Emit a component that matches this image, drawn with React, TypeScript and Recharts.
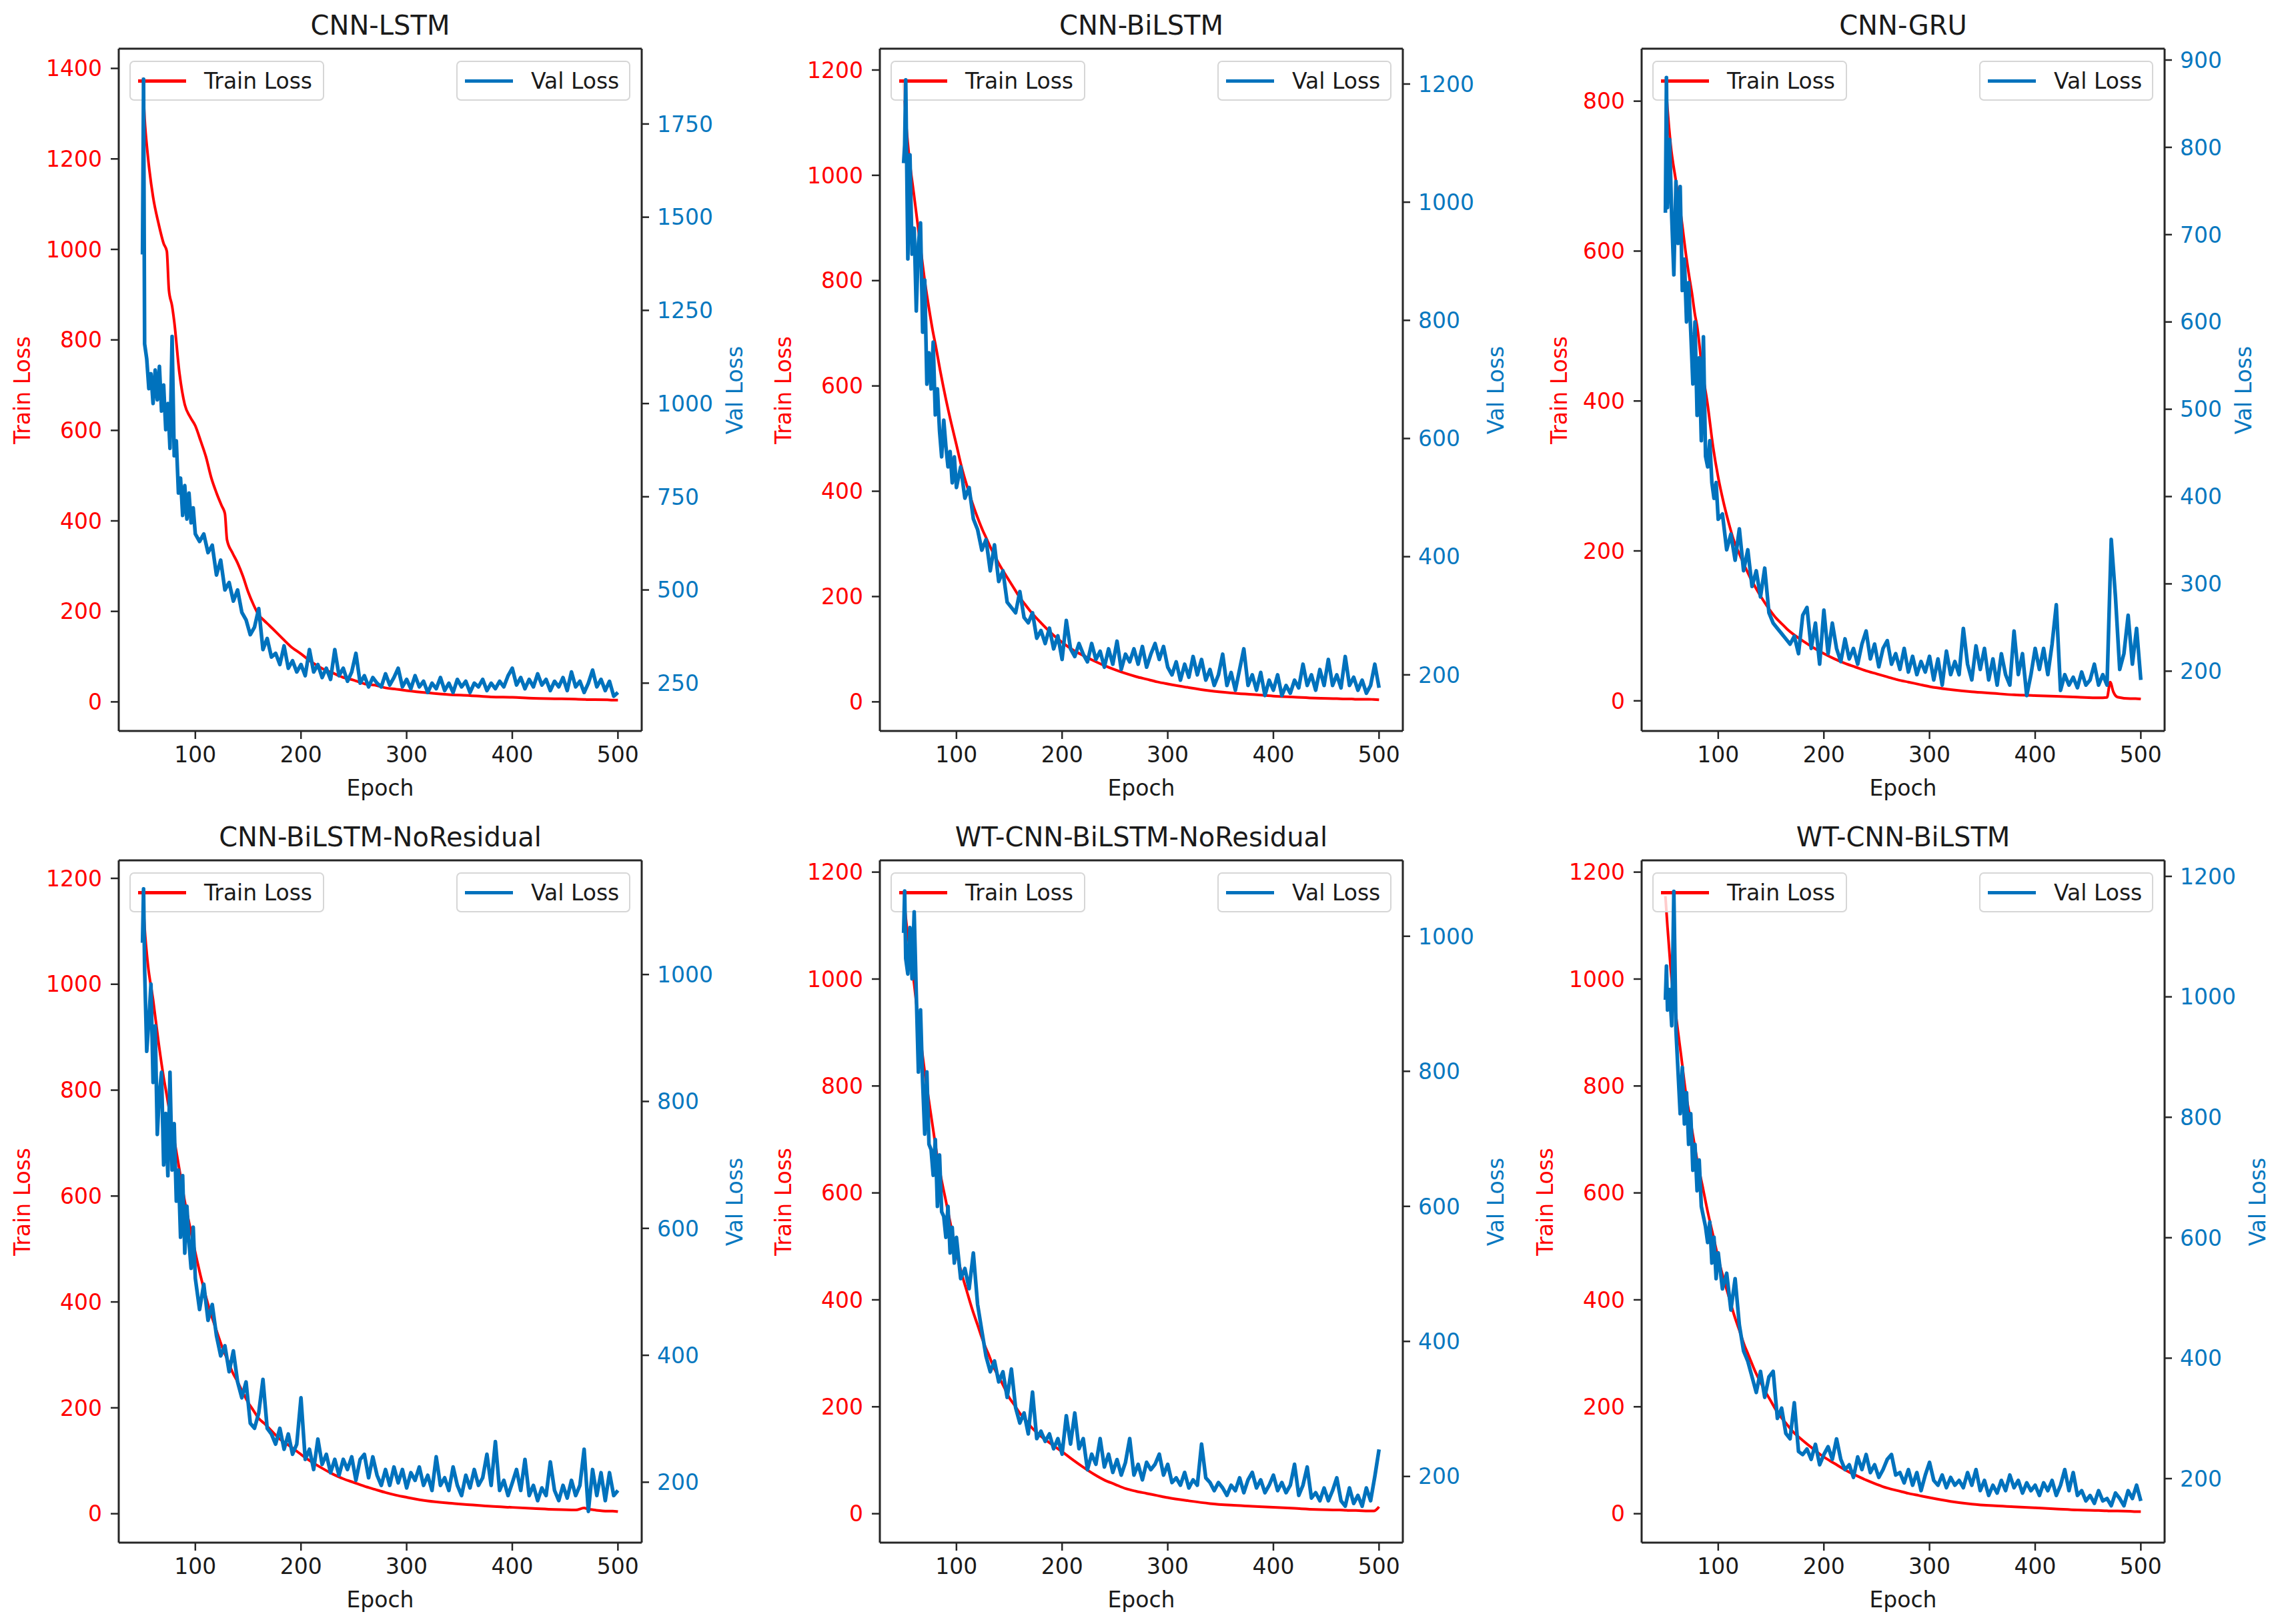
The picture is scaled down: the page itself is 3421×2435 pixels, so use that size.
import React from "react";
import { Line, LineChart, ReferenceLine, XAxis, YAxis } from "recharts";

// Six training-curve panels (2 x 3). Each panel = twin-axis plot: train loss
// on the left (red), val loss on the right (blue). Drawn as two stacked charts
// so the val line and its legend sit above the train legend, like a twinx.
const FONT = "'DejaVu Sans', sans-serif";
const RED = "#ff0000";
const BLUE = "#0072bd";
const BLUE_TEXT = "#0878bf";
const INK = "#1a1a1a";
const AXIS = "#262626";

const PLOT_W = 784;
const PLOT_H = 1023;
const LEFT_W = 170;
const RIGHT_W = 200;
const TOP_PAD = 10;
const X_AXIS_H = 140;
const CHART_W = LEFT_W + PLOT_W + RIGHT_W;
const CHART_H = TOP_PAD + PLOT_H + X_AXIS_H;

const X_DOMAIN: [number, number] = [27.5, 522.5];
const X_TICKS = [100, 200, 300, 400, 500];

const TICKS_0_1400 = [0, 200, 400, 600, 800, 1000, 1200, 1400];
const TICKS_0_1200 = [0, 200, 400, 600, 800, 1000, 1200];
const TICKS_0_800 = [0, 200, 400, 600, 800];
const TICKS_250_1750 = [250, 500, 750, 1000, 1250, 1500, 1750];
const TICKS_200_1200 = [200, 400, 600, 800, 1000, 1200];
const TICKS_200_1000 = [200, 400, 600, 800, 1000];
const TICKS_200_900 = [200, 300, 400, 500, 600, 700, 800, 900];

const TRAIN_EPOCHS = [
  50, 52, 55, 60, 65, 70, 73, 75, 78, 80,
  85, 90, 95, 100, 105, 110, 115, 120, 125, 128,
  130, 135, 140, 145, 150, 155, 160, 165, 170, 180,
  190, 200, 210, 220, 230, 240, 250, 260, 270, 280,
  290, 300, 320, 340, 360, 380, 400, 420, 440, 460,
  468, 471, 474, 478, 490, 495, 500,
];

const VAL_EPOCHS = [
  50, 51, 52,
  54, 56, 58, 60, 62, 64, 66, 68, 70, 72,
  74, 76, 78, 80, 82, 84, 86, 88, 90, 92,
  94, 96, 98, 100,
  104, 108, 112, 116, 120, 124, 128, 132, 136, 140,
  144, 148, 152, 156, 160, 164, 168, 172, 176, 180,
  184, 188, 192, 196, 200, 204, 208, 212, 216, 220,
  224, 228, 232, 236, 240, 244, 248, 252, 256, 260,
  264, 268, 272, 276, 280, 284, 288, 292, 296, 300,
  304, 308, 312, 316, 320, 324, 328, 332, 336, 340,
  344, 348, 352, 356, 360, 364, 368, 372, 376, 380,
  384, 388, 392, 396, 400, 404, 408, 412, 416, 420,
  424, 428, 432, 436, 440, 444, 448, 452, 456, 460,
  464, 468, 472, 476, 480, 484, 488, 492, 496, 500,
];

// ---- CNN-LSTM
const TRAIN_CNN_LSTM = [
  1380, 1289, 1208, 1116, 1059, 1013, 996, 910, 875, 841,
  726, 657, 630, 610, 577, 542, 496, 462, 433, 416,
  358, 330, 307, 278, 243, 215, 192, 180, 169, 146,
  123, 106, 88, 74, 64, 54, 48, 40, 37, 31,
  28, 25, 20, 16, 14, 11, 10, 8, 7, 6,
  5.5, 5, 5, 5, 4.5, 4, 4,
];
const VAL_CNN_LSTM = [
  1400, 1870, 1160,
  1120, 1040, 1080, 1000, 1090, 1010, 1100, 980, 1050, 930,
  1000, 880, 1180, 860, 900, 760, 800, 700, 780, 690,
  760, 680, 720, 650,
  630, 650, 600, 620, 540, 580, 500, 520, 470, 500,
  440, 420, 380, 400, 450, 340, 370, 320, 330, 300,
  350, 290, 310, 280, 300, 270, 340, 280, 300, 265,
  290, 260, 340, 270, 290, 255, 280, 330, 250, 270,
  240, 265, 250, 240, 275, 245, 265, 290, 240, 260,
  235, 270, 240, 255, 225, 250, 235, 265, 230, 250,
  225, 260, 240, 255, 225, 250, 240, 260, 230, 250,
  235, 255, 240, 270, 290, 245, 265, 235, 260, 240,
  275, 245, 260, 230, 255, 240, 265, 230, 280, 240,
  255, 225, 250, 285, 240, 260, 230, 255, 215, 225,
];

// ---- CNN-BiLSTM
const TRAIN_CNN_BILSTM = [
  1180, 1110, 1040, 960, 880, 800, 760, 735, 700, 680,
  625, 575, 530, 488, 445, 410, 378, 350, 325, 312,
  303, 282, 263, 246, 230, 214, 198, 185, 172, 150,
  130, 113, 99, 88, 78, 69, 61, 54, 48, 43,
  38, 34, 27, 21, 17, 14, 11, 9, 7, 6,
  5.5, 5.5, 5.5, 5, 5, 4.5, 4,
];
const VAL_CNN_BILSTM = [
  1066, 1097, 1207,
  904, 1080, 912, 956, 816, 930, 965, 780, 868, 692,
  745, 684, 763, 640, 684, 613, 569, 631, 587, 552,
  578, 525, 569, 517,
  552, 499, 517, 464, 446, 411, 429, 376, 420, 358,
  376, 323, 314, 305, 341, 297, 288, 305, 262, 275,
  253, 279, 244, 266, 226, 292, 244, 231, 253, 235,
  222, 253, 226, 240, 213, 244, 218, 257, 209, 235,
  222, 244, 218, 248, 213, 235, 253, 226, 248, 213,
  200, 222, 191, 218, 196, 231, 200, 226, 191, 209,
  182, 200, 235, 182, 204, 174, 209, 244, 182, 200,
  174, 204, 165, 191, 174, 200, 165, 182, 169, 191,
  178, 218, 182, 200, 174, 209, 182, 226, 182, 200,
  178, 231, 182, 196, 174, 191, 169, 182, 218, 178,
];

// ---- CNN-GRU
const TRAIN_CNN_GRU = [
  832, 790, 742, 693, 645, 590, 562, 545, 515, 500,
  440, 395, 340, 298, 265, 237, 213, 196, 180, 171,
  165, 152, 140, 129, 119, 110, 103, 96, 90, 80,
  71, 63, 56, 50, 45, 40, 36, 32, 28, 25,
  22, 19, 15, 12, 10, 8, 7, 6, 5, 4,
  4.5, 25, 12, 5, 3, 3, 2.5,
];
const VAL_CNN_GRU = [
  725, 880, 731,
  809, 720, 654, 761, 690, 755, 636, 672, 600, 645,
  589, 529, 600, 493, 559, 464, 583, 446, 434, 464,
  416, 398, 416, 374,
  380, 339, 357, 327, 363, 315, 339, 297, 315, 285,
  318, 267, 255, 249, 243, 237, 231, 240, 220, 264,
  273, 226, 255, 208, 270, 220, 255, 226, 211, 237,
  214, 226, 208, 231, 246, 214, 231, 205, 226, 235,
  208, 220, 202, 226, 199, 217, 196, 211, 199, 217,
  190, 214, 184, 223, 196, 211, 196, 249, 208, 190,
  229, 202, 226, 190, 214, 184, 220, 196, 184, 246,
  196, 220, 172, 196, 226, 202, 226, 196, 231, 276,
  178, 196, 184, 193, 181, 199, 184, 190, 208, 184,
  196, 184, 351, 285, 202, 220, 264, 208, 249, 190,
];

// ---- CNN-BiLSTM-NoResidual
const TRAIN_NORES = [
  1176, 1107, 1039, 971, 893, 824, 790, 766, 730, 707,
  649, 590, 541, 493, 449, 410, 376, 346, 317, 302,
  293, 268, 249, 229, 210, 195, 180, 171, 161, 141,
  127, 112, 98, 86, 75, 66, 59, 52, 46, 40,
  35, 31, 24, 20, 17, 14, 12, 10, 8, 7,
  11, 9, 8, 7, 5, 5, 4,
];
const VAL_NORES = [
  1050, 1135, 1009,
  879, 928, 985, 830, 919, 748, 814, 846, 700, 781,
  683, 846, 692, 765, 643, 692, 586, 683, 561, 635,
  578, 537, 602, 521,
  472, 512, 455, 480, 431, 399, 415, 374, 407, 358,
  333, 358, 293, 285, 309, 362, 285, 276, 260, 285,
  252, 276, 244, 260, 333, 236, 252, 220, 268, 228,
  244, 215, 236, 211, 236, 220, 240, 203, 236, 244,
  207, 240, 211, 195, 220, 195, 224, 199, 220, 191,
  215, 203, 224, 195, 211, 187, 240, 195, 207, 187,
  224, 195, 179, 211, 191, 220, 195, 207, 244, 195,
  264, 187, 203, 179, 199, 220, 187, 236, 179, 195,
  171, 191, 179, 232, 187, 171, 195, 175, 203, 179,
  195, 252, 154, 220, 179, 215, 171, 215, 179, 187,
];

// ---- WT-CNN-BiLSTM-NoResidual
const TRAIN_WT_NORES = [
  1164, 1116, 1068, 990, 903, 826, 785, 758, 718, 691,
  633, 585, 536, 488, 449, 415, 382, 353, 324, 309,
  300, 275, 256, 237, 217, 203, 188, 177, 164, 145,
  130, 116, 101, 87, 74, 63, 55, 47, 42, 38,
  34, 30, 24, 19, 16, 14, 12, 10, 8, 7,
  6.5, 6, 6, 6, 5, 5, 13,
];
const VAL_WT_NORES = [
  1005, 1067, 967,
  944, 1013, 937, 1036, 914, 799, 891, 784, 707, 799,
  692, 684, 646, 699, 600, 676, 592, 585, 554, 600,
  531, 569, 516, 554,
  493, 508, 478, 531, 455, 416, 378, 355, 371, 340,
  355, 317, 359, 302, 279, 294, 263, 325, 256, 267,
  252, 263, 241, 256, 233, 290, 248, 294, 241, 256,
  210, 233, 218, 256, 214, 233, 206, 225, 202, 221,
  256, 202, 218, 195, 221, 210, 218, 233, 202, 218,
  191, 198, 187, 206, 183, 195, 187, 248, 198, 191,
  179, 191, 183, 172, 187, 179, 198, 176, 195, 206,
  183, 195, 176, 187, 202, 179, 191, 176, 187, 218,
  172, 187, 214, 168, 176, 164, 183, 164, 179, 198,
  164, 156, 183, 160, 172, 156, 183, 164, 200, 240,
];

// ---- WT-CNN-BiLSTM
const TRAIN_WT = [
  1155, 1097, 1019, 932, 855, 778, 745, 720, 685, 662,
  614, 565, 522, 478, 440, 406, 372, 343, 314, 300,
  290, 266, 246, 227, 210, 193, 179, 167, 155, 137,
  121, 106, 94, 82, 72, 63, 55, 48, 43, 38,
  34, 30, 23, 18, 15, 13, 11, 9, 7, 6,
  5.5, 5, 5, 5, 4.5, 4, 4,
];
const VAL_WT = [
  995, 1051, 978,
  1012, 952, 1175, 944, 875, 806, 883, 789, 841, 755,
  806, 712, 755, 678, 729, 652, 635, 618, 592, 626,
  558, 601, 532, 575,
  515, 541, 480, 532, 455, 412, 395, 369, 343, 378,
  335, 369, 378, 300, 317, 275, 266, 326, 245, 240,
  249, 232, 257, 223, 240, 253, 232, 266, 232, 215,
  223, 202, 236, 215, 240, 210, 223, 202, 215, 232,
  240, 206, 210, 193, 215, 189, 210, 180, 206, 227,
  197, 189, 206, 185, 202, 189, 197, 185, 210, 189,
  215, 180, 197, 172, 189, 176, 197, 180, 206, 185,
  197, 176, 193, 180, 189, 172, 193, 180, 197, 172,
  189, 215, 180, 210, 172, 180, 163, 172, 159, 180,
  163, 167, 155, 176, 167, 155, 180, 167, 189, 163,
];

interface Panel {
  title: string;
  left: number; // plot-area left edge on the page
  top: number; // plot-area top edge on the page
  train: number[];
  val: number[];
  trainDomain: [number, number];
  trainTicks: number[];
  valDomain: [number, number];
  valTicks: number[];
}

const PANELS: Panel[] = [
  {
    title: "CNN-LSTM", left: 178, top: 73,
    train: TRAIN_CNN_LSTM, val: VAL_CNN_LSTM,
    trainDomain: [-64.3, 1443.6], trainTicks: TICKS_0_1400,
    valDomain: [121.7, 1952], valTicks: TICKS_250_1750,
  },
  {
    title: "CNN-BiLSTM", left: 1319, top: 73,
    train: TRAIN_CNN_BILSTM, val: VAL_CNN_BILSTM,
    trainDomain: [-55.3, 1240.5], trainTicks: TICKS_0_1200,
    valDomain: [105, 1259.8], valTicks: TICKS_200_1200,
  },
  {
    title: "CNN-GRU", left: 2461, top: 73,
    train: TRAIN_CNN_GRU, val: VAL_CNN_GRU,
    trainDomain: [-40.2, 870], trainTicks: TICKS_0_800,
    valDomain: [131.5, 913], valTicks: TICKS_200_900,
  },
  {
    title: "CNN-BiLSTM-NoResidual", left: 178, top: 1290,
    train: TRAIN_NORES, val: VAL_NORES,
    trainDomain: [-54.6, 1234], trainTicks: TICKS_0_1200,
    valDomain: [104.8, 1179.9], valTicks: TICKS_200_1000,
  },
  {
    title: "WT-CNN-BiLSTM-NoResidual", left: 1319, top: 1290,
    train: TRAIN_WT_NORES, val: VAL_WT_NORES,
    trainDomain: [-54.1, 1222], trainTicks: TICKS_0_1200,
    valDomain: [102, 1112.4], valTicks: TICKS_200_1000,
  },
  {
    title: "WT-CNN-BiLSTM", left: 2461, top: 1290,
    train: TRAIN_WT, val: VAL_WT,
    trainDomain: [-54.1, 1222], trainTicks: TICKS_0_1200,
    valDomain: [93.7, 1226.6], valTicks: TICKS_200_1200,
  },
];

const TICK_FONT = { fontSize: 33, fontFamily: FONT };

function LegendBox({ x, y, width, color, label }: {
  x: number; y: number; width: number; color: string; label: string;
}) {
  return (
    <div
      style={{
        position: "absolute", left: x, top: y, width, height: 60,
        boxSizing: "border-box", border: "2px solid #d6d6d6", borderRadius: 7,
        background: "rgba(255,255,255,0.8)", display: "flex", alignItems: "center",
        paddingLeft: 11,
      }}
    >
      <div style={{ width: 72, height: 5, background: color }} />
      <span style={{ marginLeft: 27, fontSize: 33, lineHeight: 1, color: INK, whiteSpace: "nowrap" }}>
        {label}
      </span>
    </div>
  );
}

function RotatedLabel({ x, y, color, text }: { x: number; y: number; color: string; text: string }) {
  return (
    <div
      style={{
        position: "absolute", left: x, top: y, fontSize: 33, lineHeight: 1, color,
        whiteSpace: "nowrap", transform: "translate(-50%, -50%) rotate(-90deg)",
      }}
    >
      {text}
    </div>
  );
}

function LossPanel({ p }: { p: Panel }) {
  const trainData = TRAIN_EPOCHS.map((epoch, i) => ({ epoch, loss: p.train[i] }));
  const valData = VAL_EPOCHS.map((epoch, i) => ({ epoch, loss: p.val[i] }));
  const leftDigits = String(p.trainTicks[p.trainTicks.length - 1]).length;
  const rightDigits = String(p.valTicks[p.valTicks.length - 1]).length;
  const plotCx = LEFT_W + PLOT_W / 2;
  const plotCy = TOP_PAD + PLOT_H / 2;

  return (
    <div
      style={{
        position: "absolute", left: p.left - LEFT_W, top: p.top - TOP_PAD,
        width: CHART_W, height: CHART_H,
      }}
    >
      <div
        style={{
          position: "absolute", left: plotCx, top: TOP_PAD - 55, transform: "translateX(-50%)",
          fontSize: 40, lineHeight: 1, color: INK, whiteSpace: "nowrap",
        }}
      >
        {p.title}
      </div>

      {/* train loss layer (ax1) */}
      <div style={{ position: "absolute", left: 0, top: 0 }}>
        <LineChart width={CHART_W} height={CHART_H} margin={{ top: TOP_PAD, right: RIGHT_W, left: 0, bottom: 0 }}>
          <XAxis
            xAxisId="x" dataKey="epoch" type="number" domain={X_DOMAIN} ticks={X_TICKS}
            allowDataOverflow height={X_AXIS_H} tickSize={12} tickMargin={12}
            tick={{ ...TICK_FONT, fill: INK }}
            axisLine={{ stroke: AXIS, strokeWidth: 3 }} tickLine={{ stroke: AXIS, strokeWidth: 2.5 }}
          />
          <YAxis
            yAxisId="train" orientation="left" type="number" width={LEFT_W}
            domain={p.trainDomain} ticks={p.trainTicks} allowDataOverflow
            tickSize={12} tickMargin={13} tick={{ ...TICK_FONT, fill: RED }}
            axisLine={{ stroke: AXIS, strokeWidth: 3 }} tickLine={{ stroke: AXIS, strokeWidth: 2.5 }}
          />
          <ReferenceLine xAxisId="x" yAxisId="train" y={p.trainDomain[1]} stroke={AXIS} strokeWidth={3} />
          <Line
            xAxisId="x" yAxisId="train" data={trainData} dataKey="loss" type="monotone"
            stroke={RED} strokeWidth={4} dot={false} activeDot={false} isAnimationActive={false}
          />
        </LineChart>
      </div>

      <LegendBox x={LEFT_W + 16} y={TOP_PAD + 18} width={292} color={RED} label="Train Loss" />

      {/* val loss layer (ax2, twinx) */}
      <div style={{ position: "absolute", left: 0, top: 0 }}>
        <LineChart width={CHART_W} height={CHART_H} margin={{ top: TOP_PAD, right: 0, left: LEFT_W, bottom: X_AXIS_H }}>
          <XAxis xAxisId="x" dataKey="epoch" type="number" domain={X_DOMAIN} allowDataOverflow hide />
          <YAxis
            yAxisId="val" orientation="right" type="number" width={RIGHT_W}
            domain={p.valDomain} ticks={p.valTicks} allowDataOverflow
            tickSize={11} tickMargin={12} tick={{ ...TICK_FONT, fill: BLUE_TEXT }}
            axisLine={{ stroke: AXIS, strokeWidth: 3 }} tickLine={{ stroke: AXIS, strokeWidth: 2.5 }}
          />
          <Line
            xAxisId="x" yAxisId="val" data={valData} dataKey="loss" type="linear"
            stroke={BLUE} strokeWidth={5.5} strokeLinejoin="round" dot={false} activeDot={false}
            isAnimationActive={false}
          />
        </LineChart>
      </div>

      <LegendBox x={LEFT_W + 506} y={TOP_PAD + 18} width={261} color={BLUE} label="Val Loss" />

      <RotatedLabel x={LEFT_W - (61 + 21 * leftDigits)} y={plotCy} color={RED} text="Train Loss" />
      <RotatedLabel x={LEFT_W + PLOT_W + 55 + 21 * rightDigits} y={plotCy} color={BLUE_TEXT} text="Val Loss" />

      <div
        style={{
          position: "absolute", left: plotCx, top: TOP_PAD + PLOT_H + 69, transform: "translateX(-50%)",
          fontSize: 33, lineHeight: 1, color: INK, whiteSpace: "nowrap",
        }}
      >
        Epoch
      </div>
    </div>
  );
}

export default function App() {
  return (
    <div
      style={{
        position: "absolute", left: 0, top: 0, width: 3421, height: 2435,
        background: "#ffffff", fontFamily: FONT, overflow: "hidden",
      }}
    >
      {PANELS.map((p) => (
        <LossPanel key={p.title} p={p} />
      ))}
    </div>
  );
}
